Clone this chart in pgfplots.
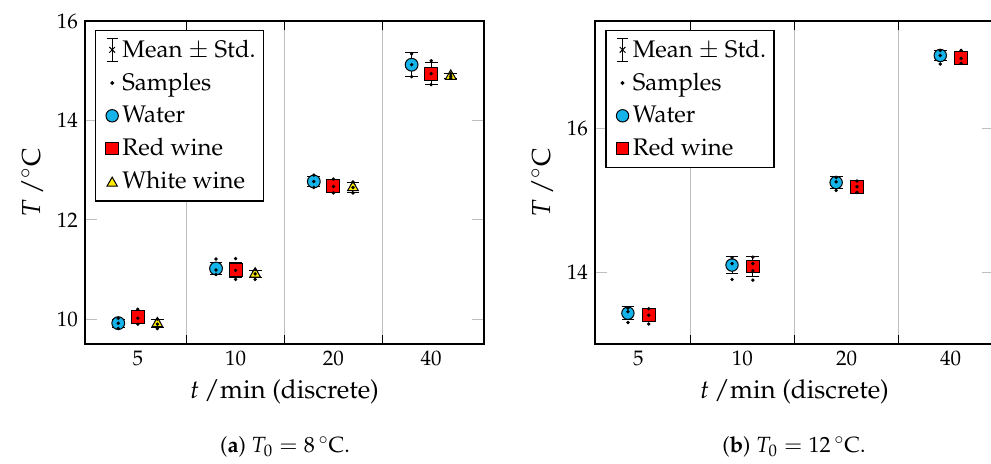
\documentclass[border=0pt]{standalone}
\usepackage[T1]{fontenc}
\usepackage{mathpazo}
\usepackage{pgfplots}
\usepackage{pgfplotstable}
\pgfplotsset{compat=1.18}
\definecolor{watercol}{RGB}{20,180,235}
\definecolor{redcol}{RGB}{255,0,0}
\definecolor{whitecol}{RGB}{255,235,0}
\definecolor{gridgray}{RGB}{190,190,190}

% ---------- panel (a): T0 = 8 C ----------
\pgfplotstableread{
x m s
-0.2 9.92 0.08
0.8 11.02 0.12
1.8 12.77 0.11
2.8 15.12 0.24
}\waterA
\pgfplotstableread{
x m s
0 10.04 0.12
1 10.99 0.15
2 12.68 0.13
3 14.94 0.22
}\redA
\pgfplotstableread{
x m s
0.2 9.91 0.08
1.2 10.91 0.07
2.2 12.65 0.11
3.2 14.89 0.05
}\whiteA
\pgfplotstableread{
x y
-0.2 10.02
-0.2 9.92
-0.2 9.81
0.8 11.21
0.8 10.99
0.8 10.90
1.8 12.90
1.8 12.77
1.8 12.65
2.8 15.34
2.8 15.12
2.8 14.88
0 10.20
0 10.02
0 9.90
1 11.22
1 10.98
1 10.80
2 12.82
2 12.67
2 12.54
3 15.20
3 14.94
3 14.72
0.2 10.00
0.2 9.90
0.2 9.81
1.2 11.00
1.2 10.91
1.2 10.80
2.2 12.76
2.2 12.65
2.2 12.54
3.2 14.94
3.2 14.89
3.2 14.85
}\samplesA

% ---------- panel (b): T0 = 12 C ----------
\pgfplotstableread{
x m s
-0.1 13.43 0.09
0.9 14.10 0.12
1.9 15.25 0.08
2.9 17.02 0.07
}\waterB
\pgfplotstableread{
x m s
0.1 13.40 0.09
1.1 14.08 0.14
2.1 15.19 0.08
3.1 16.98 0.08
}\redB
\pgfplotstableread{
x y
-0.1 13.50
-0.1 13.45
-0.1 13.30
0.9 14.20
0.9 14.12
0.9 13.90
1.9 15.32
1.9 15.26
1.9 15.14
2.9 17.09
2.9 17.02
2.9 16.90
0.1 13.49
0.1 13.40
0.1 13.28
1.1 14.21
1.1 14.12
1.1 14.02
1.1 13.89
2.1 15.27
2.1 15.19
2.1 15.11
3.1 17.09
3.1 16.98
3.1 16.91
}\samplesB

\newcommand{\legErr}{%
  \path (0pt,0pt) (8pt,0pt);
  \draw[black, line width=0.5pt] (6pt,-5.6pt) -- (6pt,5.6pt);
  \draw[black, line width=0.5pt] (3.2pt,5.6pt) -- (8.8pt,5.6pt);
  \draw[black, line width=0.5pt] (3.2pt,-5.6pt) -- (8.8pt,-5.6pt);
  \draw[black, mark=x, mark size=2pt, line width=0.5pt] plot coordinates {(6pt,0pt)};}
\newcommand{\legSmp}{%
  \path (0pt,0pt) (8pt,0pt);
  \draw[black, only marks, mark=*, mark size=0.65pt] plot coordinates {(6pt,0pt)};}
\newcommand{\legWater}{%
  \path (0pt,0pt) (8pt,0pt);
  \draw[black, only marks, mark=*, mark size=3.1pt, mark options={fill=watercol, line width=0.5pt}] plot coordinates {(6pt,0pt)};}
\newcommand{\legRed}{%
  \path (0pt,0pt) (8pt,0pt);
  \draw[black, only marks, mark=square*, mark size=3.1pt, mark options={fill=redcol, line width=0.5pt}] plot coordinates {(6pt,0pt)};}
\newcommand{\legWhite}{%
  \path (0pt,0pt) (8pt,0pt);
  \draw[black, only marks, mark=triangle*, mark size=3pt, mark options={fill=whitecol, line width=0.5pt}] plot coordinates {(6pt,-0.7pt)};}

\pgfplotsset{
  panel/.style={
    scale only axis, width=199.5pt, height=161.5pt,
    axis line style={line width=0.6pt},
    xtick={0,1,2,3}, xticklabels={5,10,20,40},
    major tick length=6pt,
    x tick style={draw=none},
    y tick style={draw=gridgray, line width=0.6pt},
    extra x ticks={0.5,1.5,2.5}, extra x tick labels={},
    extra x tick style={grid=major, major grid style={draw=gridgray, line width=0.6pt},
      x tick style={draw=black, line width=0.6pt}, major tick length=4.5pt},
    tick label style={font=\fontsize{10.5}{12}\selectfont},
    label style={font=\fontsize{13}{15}\selectfont},
    xlabel={$t\,/$min (discrete)},
    ylabel={$T\,/{}^{\circ}\mathrm{C}$},
    legend cell align=left,
    legend style={font=\fontsize{12}{14}\selectfont, anchor=north west, draw=black,
      line width=0.6pt, row sep=2.4pt, inner xsep=2pt, inner ysep=2.5pt},
  },
  errstyle/.style={black, only marks, mark=x, mark size=2pt,
    error bars/.cd, y dir=both, y explicit,
    error bar style={line width=0.5pt, black},
    error mark options={rotate=90, mark size=3.2pt, black, line width=0.5pt}},
  smpstyle/.style={black, only marks, mark=*, mark size=0.65pt},
}

\begin{document}
\begin{tikzpicture}
% ---------------- (a) ----------------
\begin{axis}[panel, at={(42.5pt,-172pt)}, anchor=south west,
  xmin=-0.54, xmax=3.54, ymin=9.5, ymax=16, ytick={10,12,14,16},
  legend style={at={(0.025,0.972)}}]
\addlegendimage{legend image code/.code={\legErr}}
\addlegendentry{Mean $\pm$ Std.}
\addlegendimage{legend image code/.code={\legSmp}}
\addlegendentry{Samples}
\addlegendimage{legend image code/.code={\legWater}}
\addlegendentry{Water}
\addlegendimage{legend image code/.code={\legRed}}
\addlegendentry{Red wine}
\addlegendimage{legend image code/.code={\legWhite}}
\addlegendentry{White wine}

\addplot[forget plot, errstyle] table[x=x, y=m, y error=s] {\waterA};
\addplot[forget plot, errstyle] table[x=x, y=m, y error=s] {\redA};
\addplot[forget plot, errstyle] table[x=x, y=m, y error=s] {\whiteA};
\addplot[forget plot, only marks, mark=*, mark size=3.2pt, mark options={draw=black, fill=watercol, line width=0.5pt}] table[x=x, y=m] {\waterA};
\addplot[forget plot, only marks, mark=square*, mark size=3.3pt, mark options={draw=black, fill=redcol, line width=0.5pt}] table[x=x, y=m] {\redA};
\addplot[forget plot, only marks, mark=triangle*, mark size=3.1pt, mark options={draw=black, fill=whitecol, line width=0.5pt}] table[x=x, y=m] {\whiteA};
\addplot[forget plot, smpstyle] table[x=x, y=y] {\samplesA};
\end{axis}

% ---------------- (b) ----------------
\begin{axis}[panel, at={(297.5pt,-172pt)}, anchor=south west,
  xmin=-0.416, xmax=3.416, ymin=13, ymax=17.5, ytick={14,16},
  legend style={at={(0.026,0.972)}}]
\addlegendimage{legend image code/.code={\legErr}}
\addlegendentry{Mean $\pm$ Std.}
\addlegendimage{legend image code/.code={\legSmp}}
\addlegendentry{Samples}
\addlegendimage{legend image code/.code={\legWater}}
\addlegendentry{Water}
\addlegendimage{legend image code/.code={\legRed}}
\addlegendentry{Red wine}

\addplot[forget plot, errstyle] table[x=x, y=m, y error=s] {\waterB};
\addplot[forget plot, errstyle] table[x=x, y=m, y error=s] {\redB};
\addplot[forget plot, only marks, mark=*, mark size=3.1pt, mark options={draw=black, fill=watercol, line width=0.5pt}] table[x=x, y=m] {\waterB};
\addplot[forget plot, only marks, mark=square*, mark size=3.2pt, mark options={draw=black, fill=redcol, line width=0.5pt}] table[x=x, y=m] {\redB};
\addplot[forget plot, smpstyle] table[x=x, y=y] {\samplesB};
\end{axis}

\node[font=\fontsize{11}{13}\selectfont] at (142.5pt,-223.5pt) {(\textbf{a}) $T_0 = 8\,{}^{\circ}\mathrm{C}$.};
\node[font=\fontsize{11}{13}\selectfont] at (397pt,-223.5pt) {(\textbf{b}) $T_0 = 12\,{}^{\circ}\mathrm{C}$.};

\pgfresetboundingbox
\path (0pt,0pt) rectangle (495.5pt,-231.5pt);
\end{tikzpicture}
\end{document}
